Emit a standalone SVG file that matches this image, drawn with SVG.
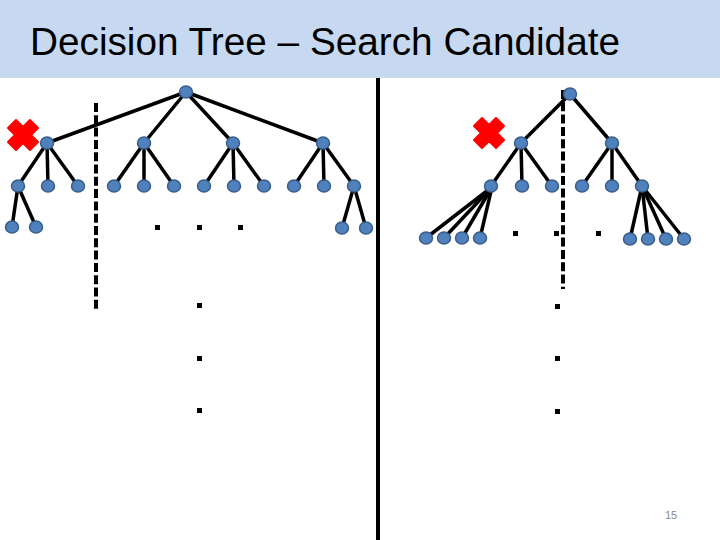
<svg xmlns="http://www.w3.org/2000/svg" width="720" height="540" viewBox="0 0 720 540">
<style>
.edge{stroke:#000;stroke-width:3.5;fill:none}
.node{fill:#4F81BD;stroke:#385D8A;stroke-width:1.5}
.dot{fill:#000}
.dash{stroke:#000;stroke-width:4;stroke-dasharray:9 3.3;fill:none}
.cross{fill:#FF0000;stroke:#FF0000;stroke-width:2;stroke-linejoin:round}
</style>
<defs>
<path id="x" d="M-15,-7 L-7,-15 L0,-8 L7,-15 L15,-7 L8,0 L15,7 L7,15 L0,8 L-7,15 L-15,7 L-8,0 Z"/>
</defs>
<rect x="0" y="0" width="720" height="78" fill="#C6D9F1"/>
<text x="30" y="55" font-family="Liberation Sans, Arial, sans-serif" font-size="38.6" textLength="590" lengthAdjust="spacingAndGlyphs" fill="#000">Decision Tree – Search Candidate</text>
<g id="dividers">
<line x1="378" y1="78" x2="378" y2="540" stroke="#000" stroke-width="4"/>
<line class="dash" x1="96" y1="103" x2="96" y2="310"/>
<line class="dash" x1="563" y1="90" x2="563" y2="289"/>
</g>
<g id="connectors">
<line class="edge" x1="186" y1="92" x2="47" y2="143"/>
<line class="edge" x1="186" y1="92" x2="144" y2="143"/>
<line class="edge" x1="186" y1="92" x2="233" y2="143"/>
<line class="edge" x1="186" y1="92" x2="323" y2="143"/>
<line class="edge" x1="47" y1="143" x2="18" y2="186"/>
<line class="edge" x1="47" y1="143" x2="48" y2="186"/>
<line class="edge" x1="47" y1="143" x2="78" y2="186"/>
<line class="edge" x1="144" y1="143" x2="114" y2="186"/>
<line class="edge" x1="144" y1="143" x2="144" y2="186"/>
<line class="edge" x1="144" y1="143" x2="174" y2="186"/>
<line class="edge" x1="233" y1="143" x2="204" y2="186"/>
<line class="edge" x1="233" y1="143" x2="234" y2="186"/>
<line class="edge" x1="233" y1="143" x2="264" y2="186"/>
<line class="edge" x1="323" y1="143" x2="294" y2="186"/>
<line class="edge" x1="323" y1="143" x2="324" y2="186"/>
<line class="edge" x1="323" y1="143" x2="354" y2="186"/>
<line class="edge" x1="18" y1="186" x2="12" y2="227"/>
<line class="edge" x1="18" y1="186" x2="36" y2="227"/>
<line class="edge" x1="354" y1="186" x2="342" y2="228"/>
<line class="edge" x1="354" y1="186" x2="366" y2="228"/>
<line class="edge" x1="570" y1="94" x2="521" y2="143"/>
<line class="edge" x1="570" y1="94" x2="612" y2="143"/>
<line class="edge" x1="521" y1="143" x2="491" y2="186"/>
<line class="edge" x1="521" y1="143" x2="522" y2="186"/>
<line class="edge" x1="521" y1="143" x2="552" y2="186"/>
<line class="edge" x1="612" y1="143" x2="582" y2="186"/>
<line class="edge" x1="612" y1="143" x2="612" y2="186"/>
<line class="edge" x1="612" y1="143" x2="642" y2="186"/>
<line class="edge" x1="492" y1="187" x2="426" y2="238"/>
<line class="edge" x1="492" y1="187" x2="444" y2="238"/>
<line class="edge" x1="492" y1="187" x2="462" y2="238"/>
<line class="edge" x1="492" y1="187" x2="480" y2="238"/>
<line class="edge" x1="642" y1="186" x2="630" y2="239"/>
<line class="edge" x1="642" y1="186" x2="648" y2="239"/>
<line class="edge" x1="642" y1="186" x2="666" y2="239"/>
<line class="edge" x1="642" y1="186" x2="684" y2="239"/>
</g>
<g id="nodes">
<g id="L-root"><ellipse class="node" cx="186" cy="92" rx="6.5" ry="6"/></g>
<g id="L1-a"><ellipse class="node" cx="47" cy="143" rx="6.5" ry="6"/></g>
<g id="L1-b"><ellipse class="node" cx="144" cy="143" rx="6.5" ry="6"/></g>
<g id="L1-c"><ellipse class="node" cx="233" cy="143" rx="6.5" ry="6"/></g>
<g id="L1-d"><ellipse class="node" cx="323" cy="143" rx="6.5" ry="6"/></g>
<g id="L2-1"><ellipse class="node" cx="18" cy="186" rx="6.5" ry="6"/></g>
<g id="L2-2"><ellipse class="node" cx="48" cy="186" rx="6.5" ry="6"/></g>
<g id="L2-3"><ellipse class="node" cx="78" cy="186" rx="6.5" ry="6"/></g>
<g id="L2-4"><ellipse class="node" cx="114" cy="186" rx="6.5" ry="6"/></g>
<g id="L2-5"><ellipse class="node" cx="144" cy="186" rx="6.5" ry="6"/></g>
<g id="L2-6"><ellipse class="node" cx="174" cy="186" rx="6.5" ry="6"/></g>
<g id="L2-7"><ellipse class="node" cx="204" cy="186" rx="6.5" ry="6"/></g>
<g id="L2-8"><ellipse class="node" cx="234" cy="186" rx="6.5" ry="6"/></g>
<g id="L2-9"><ellipse class="node" cx="264" cy="186" rx="6.5" ry="6"/></g>
<g id="L2-10"><ellipse class="node" cx="294" cy="186" rx="6.5" ry="6"/></g>
<g id="L2-11"><ellipse class="node" cx="324" cy="186" rx="6.5" ry="6"/></g>
<g id="L2-12"><ellipse class="node" cx="354" cy="186" rx="6.5" ry="6"/></g>
<g id="L3-1"><ellipse class="node" cx="12" cy="227" rx="6.5" ry="6"/></g>
<g id="L3-2"><ellipse class="node" cx="36" cy="227" rx="6.5" ry="6"/></g>
<g id="L3-3"><ellipse class="node" cx="342" cy="228" rx="6.5" ry="6"/></g>
<g id="L3-4"><ellipse class="node" cx="366" cy="228" rx="6.5" ry="6"/></g>
<g id="R-root"><ellipse class="node" cx="570" cy="94" rx="6.5" ry="6"/></g>
<g id="R1-a"><ellipse class="node" cx="521" cy="143" rx="6.5" ry="6"/></g>
<g id="R1-b"><ellipse class="node" cx="612" cy="143" rx="6.5" ry="6"/></g>
<g id="R2-1"><ellipse class="node" cx="491" cy="186" rx="6.5" ry="6"/></g>
<g id="R2-2"><ellipse class="node" cx="522" cy="186" rx="6.5" ry="6"/></g>
<g id="R2-3"><ellipse class="node" cx="552" cy="186" rx="6.5" ry="6"/></g>
<g id="R2-4"><ellipse class="node" cx="582" cy="186" rx="6.5" ry="6"/></g>
<g id="R2-5"><ellipse class="node" cx="612" cy="186" rx="6.5" ry="6"/></g>
<g id="R2-6"><ellipse class="node" cx="642" cy="186" rx="6.5" ry="6"/></g>
<g id="R3-1"><ellipse class="node" cx="426" cy="238" rx="6.5" ry="6"/></g>
<g id="R3-2"><ellipse class="node" cx="444" cy="238" rx="6.5" ry="6"/></g>
<g id="R3-3"><ellipse class="node" cx="462" cy="238" rx="6.5" ry="6"/></g>
<g id="R3-4"><ellipse class="node" cx="480" cy="238" rx="6.5" ry="6"/></g>
<g id="R3-5"><ellipse class="node" cx="630" cy="239" rx="6.5" ry="6"/></g>
<g id="R3-6"><ellipse class="node" cx="648" cy="239" rx="6.5" ry="6"/></g>
<g id="R3-7"><ellipse class="node" cx="666" cy="239" rx="6.5" ry="6"/></g>
<g id="R3-8"><ellipse class="node" cx="684" cy="239" rx="6.5" ry="6"/></g>
</g>
<g id="marks">
<use href="#x" class="cross" x="23" y="135"/>
<use href="#x" class="cross" x="489" y="133"/>
</g>
<g id="ellipsis">
<rect class="dot" x="155" y="225" width="5" height="5"/>
<rect class="dot" x="197" y="225" width="5" height="5"/>
<rect class="dot" x="238" y="225" width="5" height="5"/>
<rect class="dot" x="197" y="303" width="5" height="5"/>
<rect class="dot" x="197" y="356" width="5" height="5"/>
<rect class="dot" x="197" y="408" width="5" height="5"/>
<rect class="dot" x="513" y="231" width="5" height="5"/>
<rect class="dot" x="554" y="231" width="5" height="5"/>
<rect class="dot" x="596" y="231" width="5" height="5"/>
<rect class="dot" x="555" y="304" width="5" height="5"/>
<rect class="dot" x="555" y="356" width="5" height="5"/>
<rect class="dot" x="555" y="409" width="5" height="5"/>
</g>
<text x="671" y="519" font-family="Liberation Sans, Arial, sans-serif" font-size="11" fill="#898989" text-anchor="middle">15</text>
</svg>
